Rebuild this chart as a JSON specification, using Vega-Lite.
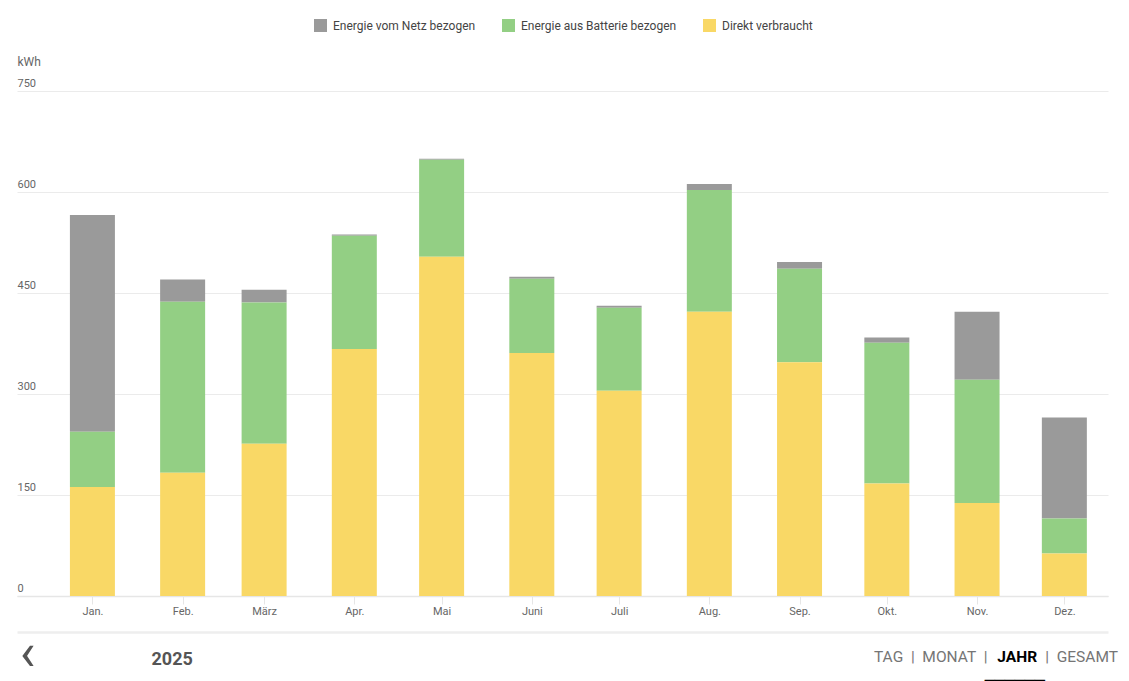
{
  "$schema": "https://vega.github.io/schema/vega-lite/v6.json",
  "width": 1091,
  "height": 505,
  "autosize": "none",
  "padding": {"left": 17, "top": 91, "right": 21, "bottom": 85},
  "background": "white",
  "data": {
    "values": [
      {"Monat": "2025-01-01", "Direkt verbraucht": 162, "Energie aus Batterie bezogen": 82, "Energie vom Netz bezogen": 322},
      {"Monat": "2025-02-01", "Direkt verbraucht": 183, "Energie aus Batterie bezogen": 254, "Energie vom Netz bezogen": 33},
      {"Monat": "2025-03-01", "Direkt verbraucht": 226, "Energie aus Batterie bezogen": 210, "Energie vom Netz bezogen": 19},
      {"Monat": "2025-04-01", "Direkt verbraucht": 367, "Energie aus Batterie bezogen": 168, "Energie vom Netz bezogen": 2},
      {"Monat": "2025-05-01", "Direkt verbraucht": 504, "Energie aus Batterie bezogen": 144, "Energie vom Netz bezogen": 1.5},
      {"Monat": "2025-06-01", "Direkt verbraucht": 361, "Energie aus Batterie bezogen": 110, "Energie vom Netz bezogen": 3},
      {"Monat": "2025-07-01", "Direkt verbraucht": 305, "Energie aus Batterie bezogen": 123, "Energie vom Netz bezogen": 3},
      {"Monat": "2025-08-01", "Direkt verbraucht": 422, "Energie aus Batterie bezogen": 181, "Energie vom Netz bezogen": 9},
      {"Monat": "2025-09-01", "Direkt verbraucht": 347, "Energie aus Batterie bezogen": 139, "Energie vom Netz bezogen": 10},
      {"Monat": "2025-10-01", "Direkt verbraucht": 167, "Energie aus Batterie bezogen": 209, "Energie vom Netz bezogen": 8},
      {"Monat": "2025-11-01", "Direkt verbraucht": 138, "Energie aus Batterie bezogen": 183, "Energie vom Netz bezogen": 101},
      {"Monat": "2025-12-01", "Direkt verbraucht": 63, "Energie aus Batterie bezogen": 52, "Energie vom Netz bezogen": 150}
    ]
  },
  "transform": [
    {"fold": ["Energie vom Netz bezogen", "Energie aus Batterie bezogen", "Direkt verbraucht"], "as": ["Typ", "kWh"]}
  ],
  "layer": [
    {
      "mark": {"type": "bar", "size": 45},
      "encoding": {
        "x": {
          "field": "Monat",
          "type": "temporal",
          "scale": {
            "type": "utc",
            "padding": 0,
            "domain": [
              {"year": 2024, "month": 12, "date": 6, "hours": 2, "utc": true},
              {"year": 2025, "month": 12, "date": 16, "utc": true}
            ]
          },
          "axis": {
            "values": [
              {"year": 2025, "month": 1, "date": 1, "utc": true},
              {"year": 2025, "month": 2, "date": 1, "utc": true},
              {"year": 2025, "month": 3, "date": 1, "utc": true},
              {"year": 2025, "month": 4, "date": 1, "utc": true},
              {"year": 2025, "month": 5, "date": 1, "utc": true},
              {"year": 2025, "month": 6, "date": 1, "utc": true},
              {"year": 2025, "month": 7, "date": 1, "utc": true},
              {"year": 2025, "month": 8, "date": 1, "utc": true},
              {"year": 2025, "month": 9, "date": 1, "utc": true},
              {"year": 2025, "month": 10, "date": 1, "utc": true},
              {"year": 2025, "month": 11, "date": 1, "utc": true},
              {"year": 2025, "month": 12, "date": 1, "utc": true}
            ],
            "labelExpr": "['Jan.','Feb.','März','Apr.','Mai','Juni','Juli','Aug.','Sep.','Okt.','Nov.','Dez.'][utcmonth(datum.value)]",
            "grid": false,
            "domainColor": "#e6e6e6",
            "domainWidth": 1.5,
            "tickColor": "#e6e6e6",
            "tickSize": 8,
            "labelPadding": 1,
            "labelFontSize": 11,
            "labelColor": "#666666",
            "labelFlush": false,
            "labelOverlap": false,
            "title": "‹",
            "titleX": 10,
            "titleY": 73,
            "titleAlign": "center",
            "titleBaseline": "alphabetic",
            "titleFontSize": 52,
            "titleFontWeight": "normal",
            "titleColor": "#555555"
          }
        },
        "y": {
          "field": "kWh",
          "type": "quantitative",
          "stack": "zero",
          "scale": {"domain": [0, 750], "nice": false},
          "axis": {
            "values": [0, 150, 300, 450, 600, 750],
            "title": "kWh",
            "titleAngle": 0,
            "titleAlign": "left",
            "titleBaseline": "alphabetic",
            "titleX": 0,
            "titleY": -26,
            "titleFontSize": 12,
            "titleFontWeight": "normal",
            "titleColor": "#666666",
            "labelAlign": "left",
            "labelBaseline": "alphabetic",
            "labelOffset": -4.5,
            "labelPadding": 0,
            "ticks": false,
            "tickSize": 0,
            "domain": false,
            "gridColor": "#ebebeb",
            "gridWidth": 1,
            "labelFontSize": 11,
            "labelColor": "#666666"
          }
        },
        "color": {
          "field": "Typ",
          "type": "nominal",
          "scale": {
            "domain": ["Energie vom Netz bezogen", "Energie aus Batterie bezogen", "Direkt verbraucht"],
            "range": ["#9a9a9a", "#93cf84", "#f9d866"]
          },
          "legend": {
            "orient": "none",
            "legendX": 297,
            "legendY": -72,
            "direction": "horizontal",
            "title": null,
            "symbolType": "square",
            "symbolSize": 169,
            "symbolStrokeWidth": 0,
            "symbolOpacity": 1,
            "labelFontSize": 12,
            "labelColor": "#444444",
            "labelFont": "Roboto",
            "columnPadding": 26,
            "labelOffset": 6
          }
        },
        "order": {"field": "Typ", "sort": "ascending"}
      }
    },
    {
      "mark": {"type": "rule", "opacity": 0},
      "encoding": {
        "x": {
          "field": "Monat",
          "type": "temporal",
          "axis": {
            "orient": "bottom",
            "offset": 36,
            "domainColor": "#eeeeee",
            "domainWidth": 2.5,
            "labels": false,
            "ticks": false,
            "grid": false,
            "title": "2025",
            "titleX": 134,
            "titleY": 32,
            "titleAlign": "left",
            "titleBaseline": "alphabetic",
            "titleFontSize": 18,
            "titleFontWeight": "bold",
            "titleColor": "#555555"
          }
        }
      }
    }
  ],
  "resolve": {"axis": {"x": "independent"}},
  "title": {
    "text": "TAG\u00a0\u00a0|\u00a0\u00a0MONAT\u00a0\u00a0|\u00a0\u00a0\u00a0\u00a0\u00a0\u00a0\u00a0\u00a0\u00a0\u00a0\u00a0\u00a0\u00a0\u00a0\u00a0|\u00a0\u00a0GESAMT",
    "subtitle": [
      "JAHR\u00a0\u00a0\u00a0\u00a0\u00a0\u00a0\u00a0\u00a0\u00a0\u00a0\u00a0\u00a0\u00a0\u00a0\u00a0\u00a0\u00a0\u00a0\u00a0\u00a0\u00a0\u200b",
      "━━━━━━\u00a0\u00a0\u00a0\u00a0\u00a0\u00a0\u00a0\u00a0\u00a0\u00a0\u00a0\u00a0\u00a0\u00a0\u00a0\u00a0\u00a0\u00a0\u00a0\u200b"
    ],
    "orient": "bottom",
    "anchor": "end",
    "frame": "group",
    "baseline": "alphabetic",
    "fontSize": 15.5,
    "fontWeight": "normal",
    "color": "#757575",
    "font": "Roboto",
    "subtitleFont": "Roboto",
    "subtitleFontSize": 15.5,
    "subtitleFontWeight": "bold",
    "subtitleColor": "#000000",
    "subtitleLineHeight": 24.5,
    "subtitlePadding": -15.5,
    "offset": -17,
    "dx": 10
  },
  "config": {
    "font": "Roboto",
    "view": {"stroke": null},
    "axis": {"labelFont": "Roboto", "titleFont": "Roboto"}
  }
}
